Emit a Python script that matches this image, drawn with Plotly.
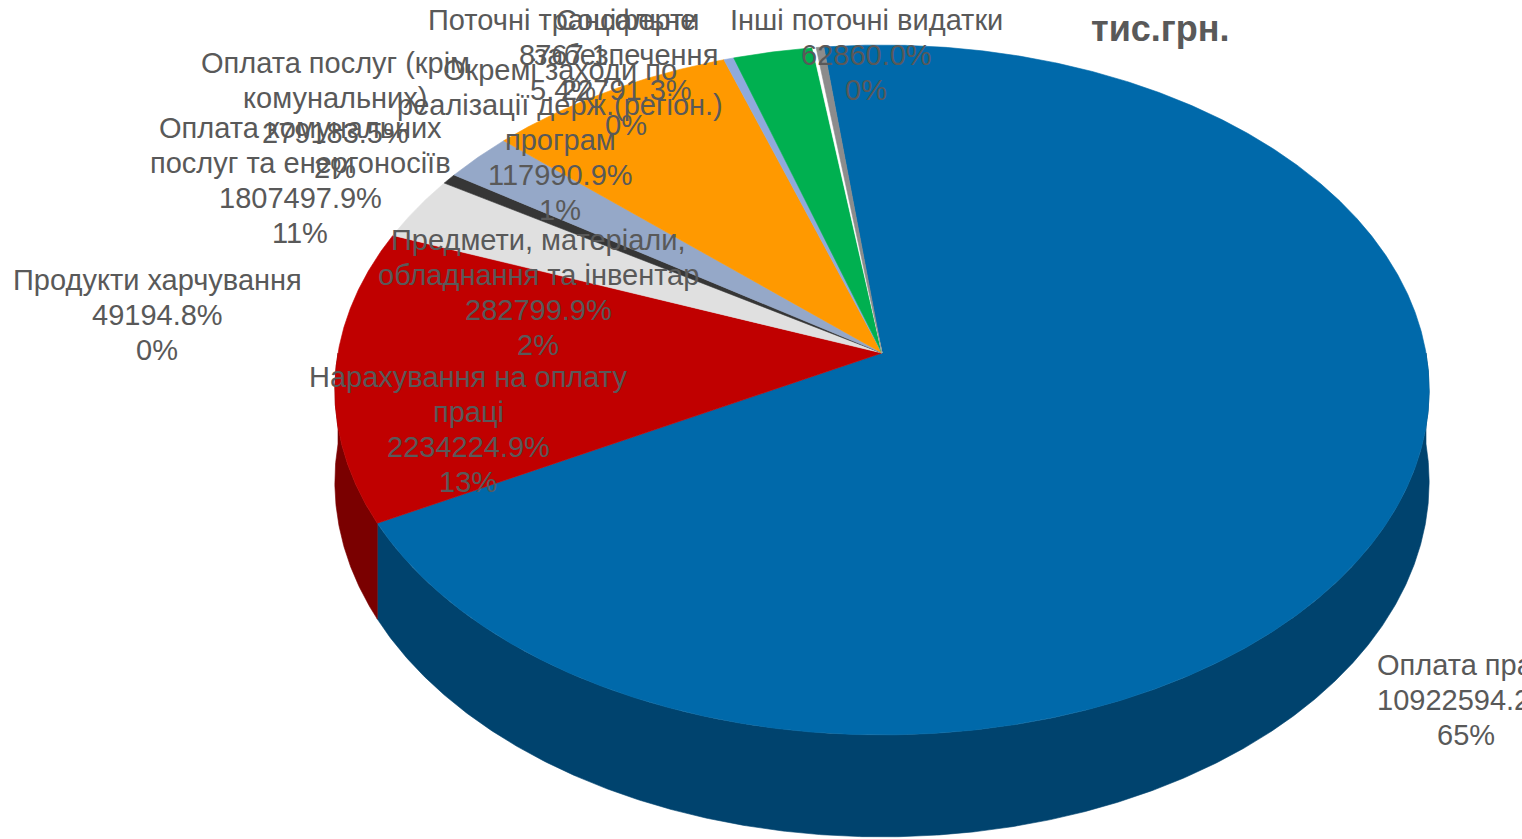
import math
import plotly.graph_objects as go

# ---------------- data ----------------
categories = [
    "Оплата праці",
    "Нарахування на оплату праці",
    "Предмети, матеріали, обладнання та інвентар",
    "Продукти харчування",
    "Оплата послуг (крім комунальних)",
    "Оплата комунальних послуг та енергоносіїв",
    "Окремі заходи по реалізації держ.(регіон.) програм",
    "Поточні трансферти",
    "Соціальне забезпечення",
    "Інші поточні видатки",
]
category_lines = [
    ["Оплата праці"],
    ["Нарахування на оплату", "праці"],
    ["Предмети, матеріали,", "обладнання та інвентар"],
    ["Продукти харчування"],
    ["Оплата послуг (крім", "комунальних)"],
    ["Оплата комунальних", "послуг та енергоносіїв"],
    ["Окремі заходи по", "реалізації держ.(регіон.)", "програм"],
    ["Поточні трансферти"],
    ["Соціальне", "забезпечення"],
    ["Інші поточні видатки"],
]
value_labels = ["10922594.2%", "2234224.9%", "282799.9%", "49194.8%", "279183.5%",
                "1807497.9%", "117990.9%", "8767.1", "22791.3%", "62860.0%"]
percent_labels = ["65%", "13%", "2%", "0%", "2%", "11%", "1%", "5.4%", "0%", "0%"]
# slice sizes as drawn (share of the full circle, %)
slice_share = [69.1, 13.7, 3.0, 0.5, 2.3, 8.2, 0.33, 2.6, 0.12, 0.25]
title_text = "тис.грн."

# ---------------- style ----------------
top_colors = ["#0069AA", "#C00000", "#E0E0E0", "#363636", "#95A8C8",
              "#FF9900", "#8FAADC", "#00B050", "#FFFFFF", "#8C8C8C"]
side_colors = ["#00436E", "#7A0000", "#A8A8A8", "#222222", "#6A7A94",
               "#B86E00", "#667A9E", "#007A38", "#DDDDDD", "#666666"]

W, H = 1522, 839
CX, AY = 882.0, 353.0      # apex of the pie
RX, RY = 544.0, 341.0      # radii
K = 0.1072                 # perspective factor
DEPTH = 91.0
START = -6.8               # start angle (deg, clockwise from top)

label_pos = [(1466, 665), (468, 377), (538, 240), (157, 280), (335, 63),
             (300, 128), (560, 70), (563, 20), (626, 20), (866, 20)]
LINE_H = 35
FONT = "Liberation Sans, Arial, sans-serif"
TXT = "#595959"


def proj(theta, z=0.0):
    t = math.radians(theta)
    sx, sy = math.sin(t), math.cos(t)
    w = 1 + K * sy
    return CX + RX * sx / w, AY - RY * sy / w + DEPTH * z / w


def arc(a, b, z=0.0, step=0.25):
    n = max(2, int(abs(b - a) / step) + 1)
    return [proj(a + (b - a) * i / (n - 1), z) for i in range(n)]


fig = go.Figure()

total = sum(slice_share)
bounds = []
acc = START
for s in slice_share:
    a = acc
    acc += 360.0 * s / total
    bounds.append((a, acc))

# side walls (front half only)
for i, (a, b) in enumerate(bounds):
    for lo, hi in [(90, 270), (450, 630)]:
        aa, bb = max(a, lo), min(b, hi)
        if bb <= aa:
            continue
        top = arc(aa, bb, 0)
        bot = arc(aa, bb, 1)[::-1]
        pts = top + bot + [top[0]]
        fig.add_trace(go.Scatter(
            x=[p[0] for p in pts], y=[p[1] for p in pts], mode="lines",
            fill="toself", fillcolor=side_colors[i],
            line=dict(color=side_colors[i], width=0.6),
            hoverinfo="skip", showlegend=False))

# top faces
for i, (a, b) in enumerate(bounds):
    rim = arc(a, b, 0)
    pts = [(CX, AY)] + rim + [(CX, AY)]
    fig.add_trace(go.Scatter(
        x=[p[0] for p in pts], y=[p[1] for p in pts], mode="lines",
        fill="toself", fillcolor=top_colors[i],
        line=dict(color=top_colors[i], width=0.6),
        hoverinfo="skip", showlegend=False, name=categories[i]))

# data labels
annotations = []
for i in range(len(categories)):
    lines = category_lines[i] + [value_labels[i], percent_labels[i]]
    x0, y0 = label_pos[i]
    for j, ln in enumerate(lines):
        annotations.append(dict(
            x=x0, y=y0 + j * LINE_H, xref="x", yref="y", text=ln,
            showarrow=False, xanchor="center", yanchor="middle",
            font=dict(family=FONT, size=29, color=TXT)))

annotations.append(dict(
    x=1160, y=28, xref="x", yref="y", text="<b>" + title_text + "</b>",
    showarrow=False, xanchor="center", yanchor="middle",
    font=dict(family=FONT, size=36, color=TXT)))

fig.update_layout(
    width=W, height=H, margin=dict(l=0, r=0, t=0, b=0),
    paper_bgcolor="white", plot_bgcolor="white",
    xaxis=dict(range=[0, W], visible=False, fixedrange=True),
    yaxis=dict(range=[H, 0], visible=False, fixedrange=True),
    annotations=annotations,
)

fig.write_html("out.html", config={"displayModeBar": False},
               post_script="document.body.style.margin='0';document.body.style.overflow='hidden';")
